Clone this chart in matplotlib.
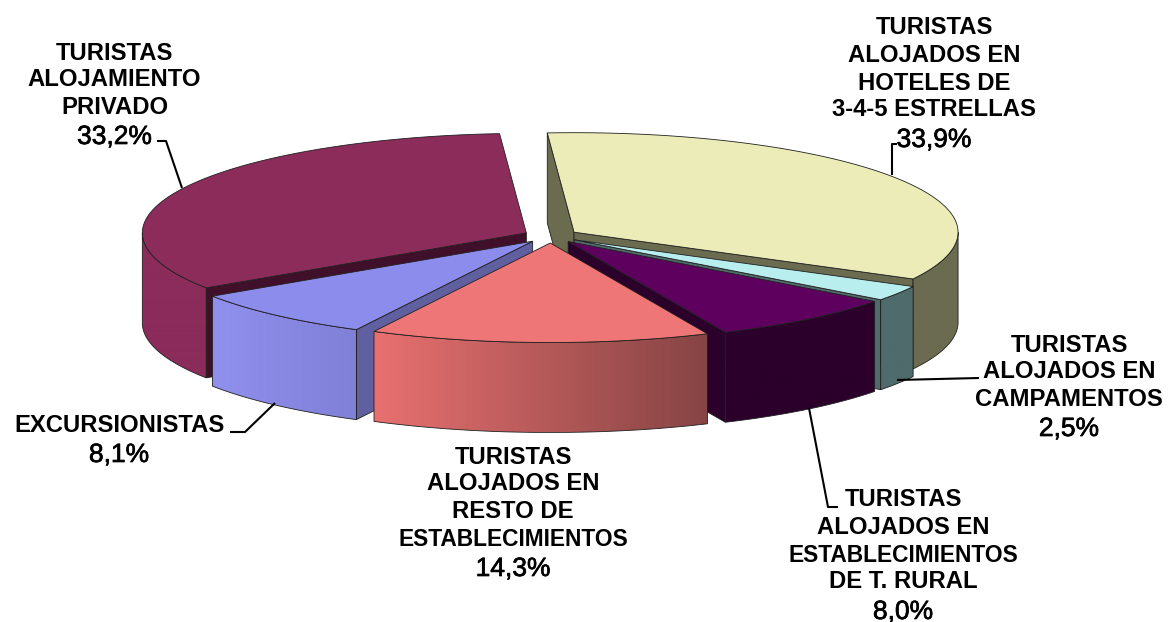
import numpy as np
import matplotlib
matplotlib.use('Agg')
import matplotlib.pyplot as plt
import matplotlib.patheffects as pe
from matplotlib.colors import to_rgb
from matplotlib.patches import Polygon

# datos del grafico (sentido horario desde arriba)
categories = ['TURISTAS\nALOJADOS EN\nHOTELES DE\n3-4-5 ESTRELLAS',
              'TURISTAS\nALOJADOS EN\nCAMPAMENTOS',
              'TURISTAS\nALOJADOS EN\nESTABLECIMIENTOS\nDE T. RURAL',
              'TURISTAS\nALOJADOS EN\nRESTO DE\nESTABLECIMIENTOS',
              'EXCURSIONISTAS',
              'TURISTAS\nALOJAMIENTO\nPRIVADO']
values = [33.9, 2.5, 8.0, 14.3, 8.1, 33.2]
value_labels = ['33,9%', '2,5%', '8,0%', '14,3%', '8,1%', '33,2%']

# colores: superficie, cara cortada, pared (izquierda, derecha)
top_colors = ['#ECECB9', '#B9EEEE', '#5E005E', '#EE7676', '#8C8CEC', '#8B2C5B']
cut_colors = ['#6B6B50', '#4F6B6B', '#2B002B', '#7A3C3C', '#6060A0', '#40102A']
wall_left = ['#6B6B50', '#4F6B6B', '#2B002B', '#E87070', '#9090EE', '#8B2C5B']
wall_right = ['#6B6B50', '#4F6B6B', '#2B002B', '#864444', '#8080D8', '#8B2C5B']

# orden de dibujo, de atras hacia delante
draw_order = [5, 0, 1, 2, 4, 3]

# geometria del pie en pixeles
cx, cy = 551, 236
rx, ry = 384, 99.5
depth = 90
explode_x, explode_y = 27.5, 7
start_angle = -4

# posicion de cada linea de texto: centro x, y de cada linea
label_x = [934, 1069, 903, 513, 119, 114.5]
label_y = [[26, 53, 81, 108, 138],
           [343, 370, 398, 427],
           [498, 525, 553, 580, 610],
           [455, 482, 510, 537, 567],
           [424, 453],
           [51, 77, 105, 135]]

leaders = [([897, 892, 892], [144, 144, 175]),
           ([979, 897], [378, 380]),
           ([809, 828, 838], [408, 507, 507]),
           ([275, 245, 230], [403, 432, 432]),
           ([157, 166, 182], [141, 141, 188])]

fig = plt.figure(figsize=(11.73, 6.22), dpi=100)
ax = fig.add_axes([0, 0, 1, 1])
ax.set_axis_off()

bounds = start_angle + np.cumsum([0] + values) * 3.6
z = 1


def arc(x0, y0, a, b, n=80):
    t = np.radians(np.linspace(a, b, n))
    return np.column_stack([x0 + rx * np.sin(t), y0 - ry * np.cos(t)])


for i in draw_order:
    a, b = bounds[i], bounds[i + 1]
    mid = np.radians((a + b) / 2)
    x0 = cx + explode_x * np.sin(mid)
    y0 = cy - explode_y * np.cos(mid)
    apex = np.array([x0, y0])
    down = np.array([0, depth])

    # caras cortadas visibles
    for ang, normal in ((a, a - 90), (b, b + 90)):
        if np.cos(np.radians(normal)) < 0:
            p = arc(x0, y0, ang, ang, 1)[0]
            ax.add_patch(Polygon([apex, p, p + down, apex + down], closed=True,
                                 fc=cut_colors[i], ec='#202020', lw=0.6, zorder=z))
            z += 1

    # pared exterior con degradado
    lo, hi = max(a, 90), min(b, 270)
    if lo < hi:
        top = arc(x0, y0, lo, hi)
        wall = np.vstack([top, (top + down)[::-1]])
        poly = Polygon(wall, closed=True, fc='none', ec='#202020', lw=0.6, zorder=z + 1)
        ax.add_patch(poly)
        xmin, xmax = wall[:, 0].min(), wall[:, 0].max()
        grad = np.linspace(to_rgb(wall_left[i]), to_rgb(wall_right[i]), 256)[None, :, :]
        im = ax.imshow(grad, extent=(xmin, xmax, wall[:, 1].max(), wall[:, 1].min()),
                       aspect='auto', interpolation='bilinear', zorder=z)
        im.set_clip_path(poly)
        z += 2

    # superficie superior
    surface = np.vstack([apex, arc(x0, y0, a, b)])
    ax.add_patch(Polygon(surface, closed=True, fc=top_colors[i], ec='#202020',
                         lw=0.6, zorder=z))
    z += 1

ax.set_xlim(0, 1173)
ax.set_ylim(622, 0)

# lineas guia
for xs, ys in leaders:
    ax.plot(xs, ys, color='black', lw=1.5, zorder=z, solid_capstyle='butt')

# etiquetas
for i, cat in enumerate(categories):
    for k, line in enumerate(cat.split('\n')):
        size = 16.4 if line == 'ESTABLECIMIENTOS' else 17.2
        ax.text(label_x[i], label_y[i][k] + 2, line, ha='center', va='center',
                family='Liberation Sans', fontsize=size, fontweight='bold',
                color='black', zorder=z)
    t = ax.text(label_x[i], label_y[i][-1] + 2, value_labels[i], ha='center', va='center',
                family='Liberation Sans', fontsize=19, color='black', zorder=z)
    t.set_path_effects([pe.withStroke(linewidth=0.5, foreground='black')])

fig.savefig('out.png', dpi=100, facecolor='white')
